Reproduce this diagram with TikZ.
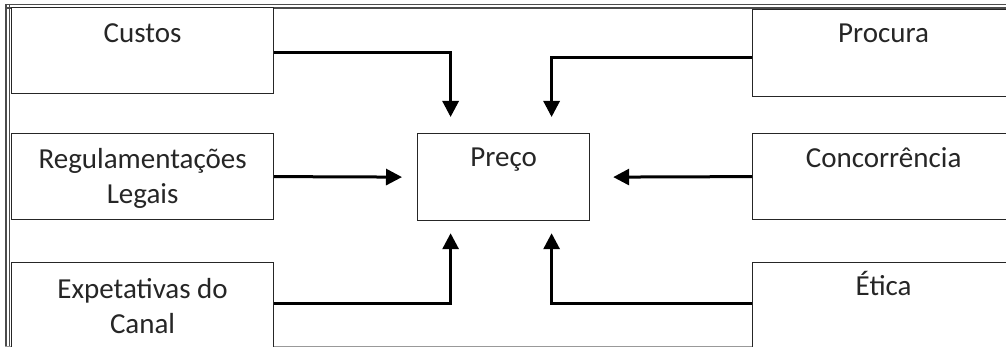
\documentclass[tikz,border=0pt]{standalone}
\usepackage{fontspec}
\setmainfont{Carlito}
\usetikzlibrary{arrows.meta,calc}
\tikzset{
  box/.style={draw=black!85, line width=1.2pt, fill=white, rectangle, inner sep=0pt, anchor=north west, minimum width=262pt},
  txt/.style={text=black!85, font=\fontsize{29pt}{35pt}\selectfont, align=center, inner sep=0pt, anchor=base},
  arr/.style={line width=3pt, -{Triangle[length=16pt,width=16pt]}, black},
  frame/.style={draw=black!70, line width=1.3pt}
}
\begin{document}
\begin{tikzpicture}[x=1pt,y=-1pt]
\useasboundingbox (0,0) rectangle (1006,347);
\clip (0,0) rectangle (1006,347);
% frame
\coordinate (ftl) at (5,4.5);
\coordinate (ftr) at (1006,4.5);
\coordinate (ftl2) at (5,8);
\coordinate (ftr2) at (1006,8);
\coordinate (fl1b) at (6,347);
\coordinate (fl1t) at (6,4.5);
\coordinate (fl2b) at (9.5,347);
\coordinate (fl2t) at (9.5,4.5);
\coordinate (fbl) at (5,346);
\coordinate (fbr) at (1006,346);
\draw[frame] (ftl) -- (ftr);
\draw[frame] (ftl2) -- (ftr2);
\draw[frame] (fl1t) -- (fl1b);
\draw[frame] (fl2t) -- (fl2b);
\draw[draw=black!40, line width=1pt] (fbl) -- (fbr);
% boxes
\node[box, minimum height=86pt] (custos) at (11,7) {};
\node[box, minimum height=86pt] (reg) at (11,133) {};
\node[box, minimum height=87pt] (exp) at (11,262) {};
\node[box, minimum height=87pt, minimum width=300pt] (procura) at (752,9) {};
\node[box, minimum height=86pt, minimum width=300pt] (conc) at (752,133) {};
\node[box, minimum height=87pt, minimum width=300pt] (etica) at (752,262) {};
\node[box, minimum height=87pt, minimum width=172pt] (preco) at (417,133) {};
% texts
\node[txt] (tcustos) at ([yshift=-36pt]custos.north) {Custos};
\node[txt] (treg) at ([yshift=-71pt]reg.north) {Regulamentações\\Legais};
\node[txt] (texp) at ([yshift=-71pt]exp.north) {Expetativas do\\Canal};
\node[txt] (tprocura) at ([yshift=-34pt,xshift=-19pt]procura.north) {Procura};
\node[txt] (tconc) at ([yshift=-35pt,xshift=-19pt]conc.north) {Concorrência};
\node[txt] (tetica) at ([yshift=-33pt,xshift=-19pt]etica.north) {Ética};
\node[txt] (tpreco) at ([yshift=-34pt]preco.north) {Preço};
% arrows
\draw[arr] ([yshift=-2pt]custos.east) -| ([xshift=-53pt,yshift=16pt]preco.north);
\draw[arr] ([yshift=-4pt]procura.west) -| ([xshift=48pt,yshift=16pt]preco.north);
\draw[arr] (reg.east) -- ([xshift=-15pt]preco.west);
\draw[arr] (conc.west) -- ([xshift=23pt]preco.east);
\draw[arr] ([yshift=3pt]exp.east) -| ([xshift=-53pt,yshift=-12pt]preco.south);
\draw[arr] ([yshift=3pt]etica.west) -| ([xshift=48pt,yshift=-12pt]preco.south);
\end{tikzpicture}
\end{document}
